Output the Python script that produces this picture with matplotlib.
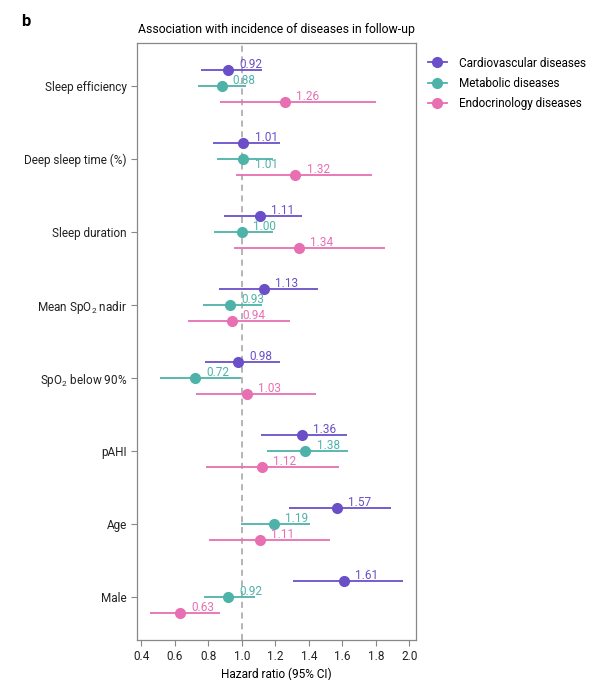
import numpy as np
import matplotlib
matplotlib.use("Agg")
import matplotlib.pyplot as plt
from matplotlib.lines import Line2D

plt.rcParams['font.family'] = ['Roboto', 'DejaVu Sans']
plt.rcParams['mathtext.fontset'] = 'custom'
plt.rcParams['mathtext.rm'] = 'Roboto'
plt.rcParams['mathtext.it'] = 'Roboto'
plt.rcParams['mathtext.default'] = 'regular'

features = ["Sleep efficiency", "Deep sleep time (%)", "Sleep duration",
            "Mean SpO$_2$ nadir", "SpO$_2$ below 90%", "pAHI", "Age", "Male"]
series = ["Cardiovascular diseases", "Metabolic diseases", "Endocrinology diseases"]
colors = ["#6a4fc9", "#4db3a8", "#e76fb2"]

# hazard ratios and 95% CI, one list per disease group
hr_cardio = [0.92, 1.01, 1.11, 1.13, 0.98, 1.36, 1.57, 1.61]
lo_cardio = [0.756, 0.826, 0.894, 0.864, 0.782, 1.116, 1.284, 1.307]
hi_cardio = [1.118, 1.228, 1.357, 1.453, 1.226, 1.626, 1.889, 1.964]

hr_metab = [0.88, 1.01, 1.00, 0.93, 0.72, 1.38, 1.19, 0.92]
lo_metab = [0.738, 0.854, 0.834, 0.767, 0.511, 1.152, 0.995, 0.776]
hi_metab = [1.023, 1.188, 1.188, 1.119, 0.993, 1.636, 1.409, 1.079]

hr_endo = [1.26, 1.32, 1.34, 0.94, 1.03, 1.12, 1.11, 0.63]
lo_endo = [0.870, 0.965, 0.955, 0.677, 0.724, 0.786, 0.804, 0.452]
hi_endo = [1.801, 1.777, 1.855, 1.286, 1.443, 1.578, 1.524, 0.870]

hrs = [hr_cardio, hr_metab, hr_endo]
los = [lo_cardio, lo_metab, lo_endo]
his = [hi_cardio, hi_metab, hi_endo]

fig = plt.figure(figsize=(6.04, 6.80), dpi=100)
ax = fig.add_axes([0.2273, 0.0588, 0.4614, 0.878])

y = np.arange(len(features))
offs = [-0.22, 0.0, 0.22]
# a few labels sit below the line in the original
lab_dy = {(1, 1): -4}

for k in range(3):
    yy = y + offs[k]
    ax.hlines(yy, los[k], his[k], color=colors[k], lw=1.3, zorder=2)
    ax.plot(hrs[k], yy, 'o', color=colors[k], ms=7, zorder=3)
    for i in range(len(features)):
        dy = lab_dy.get((k, i), 4)
        ax.annotate("%.2f" % hrs[k][i], (hrs[k][i], yy[i]), xytext=(8, dy),
                    textcoords='offset points', color=colors[k], fontsize=8.5,
                    va='center', ha='left', zorder=4)

ax.axvline(1.0, color='#a0a0a0', ls=(0, (4, 3)), lw=1.1, zorder=1)
ax.set_xlim(0.376, 2.04)
ax.set_ylim(len(features) - 0.41, -0.59)
ax.set_yticks(y)
ax.set_yticklabels(features, fontsize=8.5)
ax.set_xticks(np.arange(0.4, 2.01, 0.2))
ax.set_xticklabels(["%.1f" % v for v in np.arange(0.4, 2.01, 0.2)], fontsize=8.5)
ax.set_xlabel("Hazard ratio (95% CI)", fontsize=8.5, labelpad=3)
ax.set_title("Association with incidence of diseases in follow-up", fontsize=8.8, pad=7)
for s in ax.spines.values():
    s.set_color('#888888')
    s.set_linewidth(0.9)
ax.tick_params(colors='#222222', length=4, width=0.8)
ax.tick_params(axis='both', color='#888888')

handles = [Line2D([0], [0], color=c, lw=1.3, marker='o', ms=7) for c in colors]
ax.legend(handles, series, loc='upper left', bbox_to_anchor=(1.005, 0.995), frameon=False,
          fontsize=8.5, handlelength=1.6, handletextpad=1.0, labelspacing=0.6)

fig.text(0.035, 0.98, "b", fontsize=12, fontweight='bold', va='top')

fig.savefig("out.png", dpi=100)
